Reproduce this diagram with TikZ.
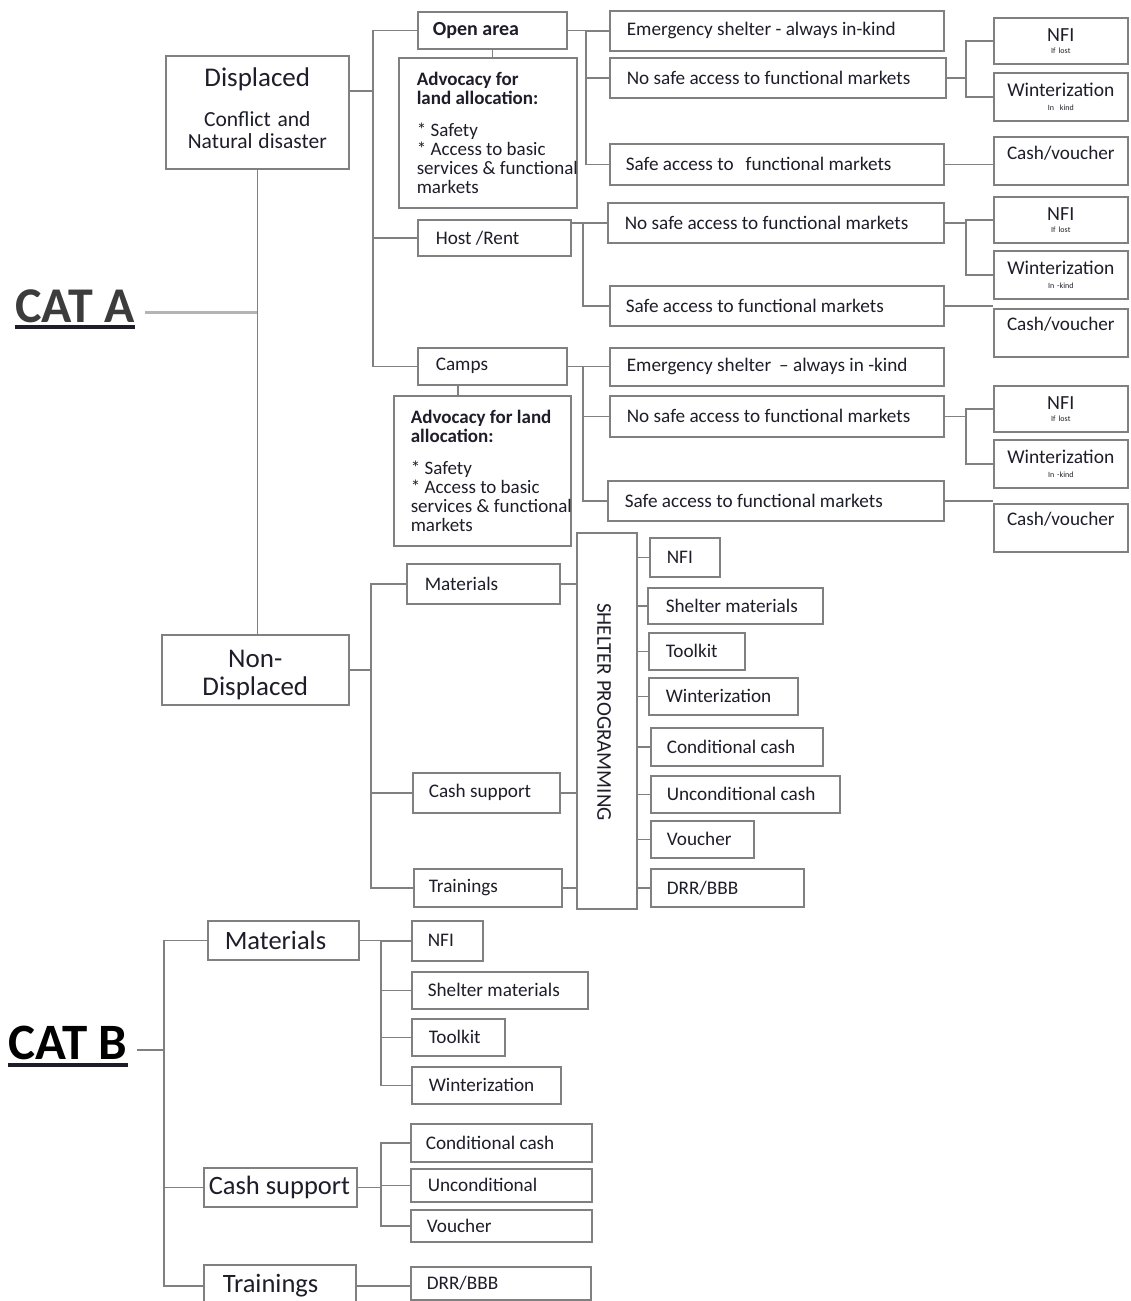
\documentclass[tikz,border=0pt]{standalone}
\usepackage{fontspec}
\setmainfont{Carlito}
\definecolor{linec}{HTML}{808080}
\definecolor{txt}{HTML}{1E1E2A}
\definecolor{catAc}{HTML}{3C3C3C}
\definecolor{catlc}{HTML}{B4B4B4}
\tikzset{
  box/.style={draw=linec, line width=1.6pt, anchor=north west, inner sep=0pt, align=left, text=txt, font=\fontsize{19.2}{21}\selectfont, execute at begin node={\spaceskip=0pt\xspaceskip=0pt\relax}},
  hbox/.style={box, font=\fontsize{26.5}{28}\selectfont},
  cbox/.style={box, align=center, minimum width=134pt, text width=128pt},
  conn/.style={draw=linec, line width=1.6pt},
  catl/.style={draw=catlc, line width=3pt}
}
\begin{document}
\begin{tikzpicture}[x=1pt,y=-1pt]
\fill[white] (0,0) rectangle (1131,1301);
\useasboundingbox (0,0) rectangle (1131,1301);

% ---------- CAT A ----------
\node[anchor=base west, inner sep=0pt, text=catAc, font=\bfseries\fontsize{50}{52}\selectfont] (catA) at (15,322) {CAT A};
\draw[line width=3.5pt, txt] ([yshift=-5pt]catA.base west) -- ([yshift=-5pt]catA.base east);

\node[box, align=center, minimum width=183pt, minimum height=113pt, text width=175pt, font=\fontsize{21.5}{22}\selectfont] (disp) at (165,55) {{\fontsize{27}{30}\selectfont Displaced}\\[18pt]Conflict and\\Natural disaster\\[-14pt]\mbox{}};
\node[box, align=center, minimum width=187pt, minimum height=70pt, text width=180pt, font=\fontsize{27}{28}\selectfont] (nondisp) at (161,634) {\rule{0pt}{27pt}Non-\\Displaced};

\coordinate (cAe) at (145,312);
\coordinate (tA) at (256.5,312);
\draw[conn] (disp.south) -- (disp.south |- nondisp.north);
\draw[catl] (cAe) -- (tA);

% column 1
\node[box, minimum width=149pt, minimum height=37pt, text width=119pt, font=\bfseries\fontsize{20}{22}\selectfont] (open) at (417,11) {\mbox{Open area}};
\node[box, minimum width=178pt, minimum height=150pt, text width=142pt, font=\fontsize{19}{19}\selectfont] (adv1) at (398,57) {\textbf{\mbox{Advocacy for}}\\\textbf{\mbox{land allocation:}}\\[13pt]\mbox{* Safety}\\\mbox{* Access to basic}\\\mbox{services \& functional}\\markets};
\node[box, minimum width=153pt, minimum height=36pt, text width=117pt] (host) at (417,219) {\mbox{Host /Rent}};
\node[box, minimum width=149pt, minimum height=37pt, text width=113pt] (camps) at (417,347) {Camps};
\node[box, minimum width=177pt, minimum height=150pt, text width=143pt, font=\fontsize{19}{19}\selectfont] (adv2) at (393,395) {\textbf{\mbox{Advocacy for land}}\\\textbf{allocation:}\\[13pt]\mbox{* Safety}\\\mbox{* Access to basic}\\\mbox{services \& functional}\\markets};

\coordinate (jA) at (373,91);
\draw[conn] (disp.east |- jA) -- (jA);
\draw[conn] (open.west) -| (jA) |- (camps.west);
\draw[conn] (host.west) -- (host.west -| jA);
\draw[conn] (open.south) -- (open.south |- adv1.north);
\coordinate (jc2) at (458,0);
\draw[conn] (camps.south -| jc2) -- (adv2.north -| jc2);

% column 2
\node[box, minimum width=334pt, minimum height=40pt, text width=300pt] (es1) at (609,10) {\mbox{Emergency shelter - always in-kind}};
\node[box, minimum width=336pt, minimum height=40pt, text width=302pt] (ns1) at (609,57) {\mbox{No safe access to functional markets}};
\node[box, minimum width=334pt, minimum height=41pt, text width=302pt] (sa1) at (609,143) {\mbox{Safe access to\hspace{12pt}functional markets}};
\node[box, minimum width=336pt, minimum height=40pt, text width=302pt] (ns2) at (607,202) {\mbox{No safe access to functional markets}};
\node[box, minimum width=334pt, minimum height=40pt, text width=302pt] (sa2) at (609,285) {\mbox{Safe access to functional markets}};
\node[box, minimum width=334pt, minimum height=38pt, text width=300pt] (es2) at (609,347) {\mbox{Emergency shelter\hspace{8pt}– always in -kind}};
\node[box, minimum width=334pt, minimum height=41pt, text width=300pt] (ns3) at (609,395) {\mbox{No safe access to functional markets}};
\node[box, minimum width=336pt, minimum height=40pt, text width=302pt] (sa3) at (607,480) {\mbox{Safe access to functional markets}};

\coordinate (jO) at (586,0);
\draw[conn] (open.east) -- (open.east -| jO);
\draw[conn] (es1.west) -- (es1.west -| jO) |- (sa1.west);
\draw[conn] (ns1.west) -- (ns1.west -| jO);
\coordinate (jH) at (583,0);
\draw[conn] (ns2.west) -- (ns2.west -| host.east);
\draw[conn] (ns2.west -| jH) |- (sa2.west);
\draw[conn] (camps.east) -- (camps.east -| es2.west);
\draw[conn] (camps.east -| jH) |- (sa3.west);
\draw[conn] (ns3.west) -- (ns3.west -| jH);

% column 3
\node[cbox, minimum height=46pt, font=\fontsize{20}{12}\selectfont] (nfi1) at (993,17) {NFI\\{\fontsize{8}{9}\selectfont If lost}};
\node[cbox, minimum height=48pt, font=\fontsize{19.5}{14}\selectfont] (win1) at (993,72) {Winterization\\{\fontsize{8}{9}\selectfont In\ \ kind}};
\node[cbox, minimum height=48pt] (cv1) at (993,136) {\raisebox{16pt}{Cash/voucher}};
\node[cbox, minimum height=46pt, font=\fontsize{20}{12}\selectfont] (nfi2) at (993,196) {NFI\\{\fontsize{8}{9}\selectfont If lost}};
\node[cbox, minimum height=48pt, font=\fontsize{19.5}{14}\selectfont] (win2) at (993,250) {Winterization\\{\fontsize{8}{9}\selectfont In -kind}};
\node[cbox, minimum height=48pt] (cv2) at (993,308) {\raisebox{18pt}{Cash/voucher}};
\node[cbox, minimum height=46pt, font=\fontsize{20}{12}\selectfont] (nfi3) at (993,385) {NFI\\{\fontsize{8}{9}\selectfont If lost}};
\node[cbox, minimum height=48pt, font=\fontsize{19.5}{14}\selectfont] (win3) at (993,439) {Winterization\\{\fontsize{8}{9}\selectfont In -kind}};
\node[cbox, minimum height=48pt] (cv3) at (993,503) {\raisebox{18pt}{Cash/voucher}};

\coordinate (j1) at (966,0);
\draw[conn] (ns1.east) -- (ns1.east -| j1);
\draw[conn] (nfi1.west) -- (nfi1.west -| j1) |- (win1.west);
\draw[conn] (sa1.east) -- (sa1.east -| cv1.west);
\draw[conn] (ns2.east) -- (ns2.east -| j1);
\draw[conn] (nfi2.west) -- (nfi2.west -| j1) |- (win2.west);
\draw[conn] (sa2.east) -- (sa2.east -| cv2.west);
\draw[conn] (ns3.east) -- (ns3.east -| j1);
\draw[conn] (nfi3.west) -- (nfi3.west -| j1) |- (win3.west);
\draw[conn] (sa3.east) -- (sa3.east -| cv3.west);

% non-displaced
\node[box, minimum width=153pt, minimum height=40pt, text width=117pt] (matA) at (406,563) {Materials};
\node[box, minimum width=147pt, minimum height=40pt, text width=115pt] (cashA) at (412,772) {\mbox{Cash support}};
\node[box, minimum width=148pt, minimum height=38pt, text width=118pt] (trainA) at (413,868) {Trainings};
\node[box, minimum width=60pt, minimum height=376pt] (shelter) at (576,532) {};
\node[rotate=-90, inner sep=0pt, text=txt, font=\fontsize{21}{23}\selectfont] (shelterlbl) at (604,712) {SHELTER PROGRAMMING};

\node[box, minimum width=70pt, minimum height=39pt, text width=36pt] (p1) at (649,537) {NFI};
\node[box, minimum width=175pt, minimum height=36pt, text width=139pt] (p2) at (647,587) {\mbox{Shelter materials}};
\node[box, minimum width=96pt, minimum height=37pt, text width=62pt] (p3) at (648,632) {Toolkit};
\node[box, minimum width=149pt, minimum height=37pt, text width=115pt] (p4) at (648,677) {Winterization};
\node[box, minimum width=172pt, minimum height=38pt, text width=140pt] (p5) at (650,727) {\mbox{Conditional cash}};
\node[box, minimum width=189pt, minimum height=37pt, text width=157pt] (p6) at (650,775) {\mbox{Unconditional cash}};
\node[box, minimum width=103pt, minimum height=37pt, text width=71pt] (p7) at (650,820) {Voucher};
\node[box, minimum width=153pt, minimum height=38pt, text width=121pt] (p8) at (650,868) {DRR/BBB};

\coordinate (jN) at (371,0);
\draw[conn] (nondisp.east) -- (nondisp.east -| jN);
\draw[conn] (matA.west) -- (matA.west -| jN) |- (trainA.west);
\draw[conn] (cashA.west) -- (cashA.west -| jN);
\draw[conn] (matA.east) -- (matA.east -| shelter.west);
\draw[conn] (cashA.east) -- (cashA.east -| shelter.west);
\draw[conn] (trainA.east) -- (trainA.east -| shelter.west);
\foreach \p in {p1,p2,p3,p4,p5,p6,p7,p8}
  \draw[conn] (\p.west) -- (\p.west -| shelter.east);

% ---------- CAT B ----------
\node[anchor=base west, inner sep=0pt, text=black, font=\bfseries\fontsize{51}{53}\selectfont] (catB) at (8,1059) {CAT B};
\draw[line width=3.5pt, txt] ([yshift=-6pt]catB.base west) -- ([yshift=-6pt]catB.base east);

\node[hbox, minimum width=151pt, minimum height=39pt, text width=117pt] (matB) at (207,920) {Materials};
\node[hbox, minimum width=153pt, minimum height=39pt, text width=143pt] (cashB) at (203,1167) {\mbox{Cash support}};
\node[hbox, minimum width=152pt, minimum height=42pt, text width=114pt] (trainB) at (203,1264) {Trainings};

\coordinate (cBe) at (137,1050);
\coordinate (jB) at (164,1050);
\draw[conn] (cBe) -- (jB);
\draw[conn] (matB.west) -| (jB) |- (trainB.west);
\draw[conn] (cashB.west) -- (cashB.west -| jB);

\node[box, minimum width=71pt, minimum height=40pt, text width=39pt] (b1) at (411,920) {NFI};
\node[box, minimum width=176pt, minimum height=37pt, text width=144pt] (b2) at (411,971) {\mbox{Shelter materials}};
\node[box, minimum width=93pt, minimum height=37pt, text width=59pt] (b3) at (411,1018) {Toolkit};
\node[box, minimum width=149pt, minimum height=37pt, text width=115pt] (b4) at (411,1066) {Winterization};
\node[box, minimum width=181pt, minimum height=38pt, text width=151pt] (b5) at (410,1123) {\mbox{Conditional cash}};
\node[box, minimum width=181pt, minimum height=33pt, text width=147pt] (b6) at (410,1168) {Unconditional};
\node[box, minimum width=181pt, minimum height=32pt, text width=149pt] (b7) at (410,1209) {Voucher};
\node[box, minimum width=180pt, minimum height=33pt, text width=148pt] (b8) at (410,1266) {DRR/BBB};

\coordinate (jM) at (381,0);
\draw[conn] (matB.east) -- (matB.east -| jM);
\draw[conn] (b1.west) -- (b1.west -| jM) |- (b4.west);
\draw[conn] (b2.west) -- (b2.west -| jM);
\draw[conn] (b3.west) -- (b3.west -| jM);
\draw[conn] (cashB.east) -- (cashB.east -| jM);
\draw[conn] (b5.west) -- (b5.west -| jM) |- (b7.west);
\draw[conn] (b6.west) -- (b6.west -| jM);
\draw[conn] (trainB.east) -- (trainB.east -| b8.west);
\end{tikzpicture}
\end{document}
